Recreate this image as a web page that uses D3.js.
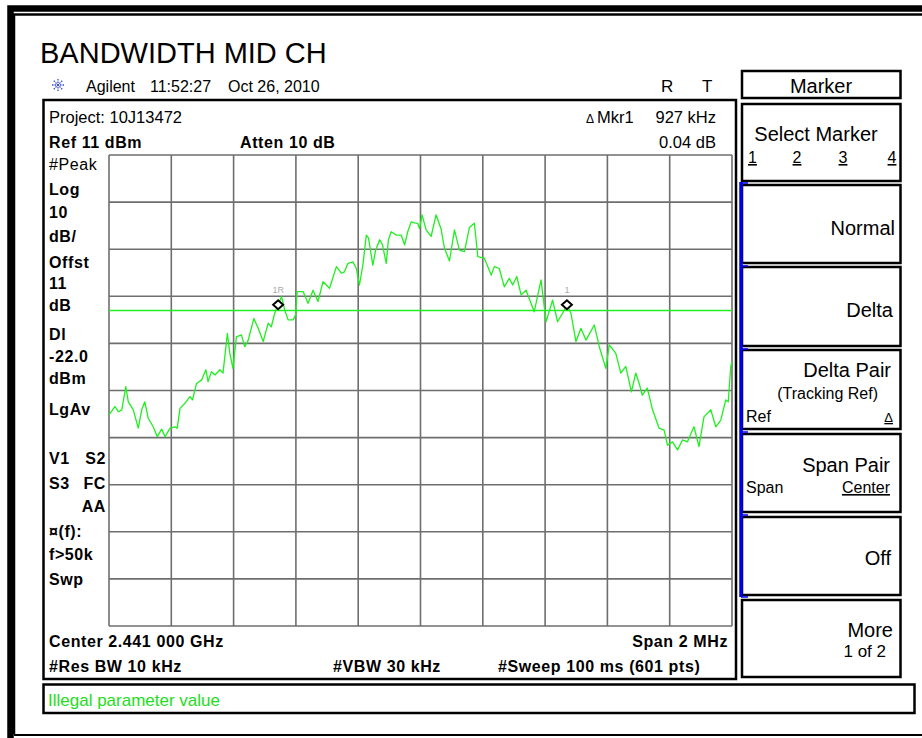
<!DOCTYPE html>
<html>
<head>
<meta charset="utf-8">
<script src="https://cdn.jsdelivr.net/npm/d3@7"></script>
<style>
body { margin: 0; background: #fff; }
text { font-family: "Liberation Sans", Arial, sans-serif; }
</style>
</head>
<body>
<div id="chart"></div>
<script>
let width = 922
let height = 738

// trace: offset from center (kHz) and level (dBm)
let freqKHz = [-1000,-981,-970,-959,-946,-938,-922,-906,-895,-885,-874,-858,-845,-831,-820,-804,-788,-781,-772,-756,
	-740,-732,-719,-703,-689,-682,-671,-660,-644,-634,-620,-612,-602,-591,-575,-564,-553,-535,-521,-505,
	-489,-479,-468,-457,-446,-436,-425,-409,-401,-396,-377,-361,-345,-329,-313,-292,-270,-254,-244,-233,
	-217,-206,-196,-185,-174,-167,-153,-144,-131,-122,-110,-103,-94,-78,-62,-51,-41,-30,-19,-9,
	-3,5,18,34,50,66,77,93,109,125,141,157,173,184,205,227,237,253,269,285,
	296,309,323,339,365,387,403,424,440,456,470,483,499,515,531,558,574,595,606,627,
	643,659,677,691,702,712,728,745,766,782,793,809,825,841,857,878,894,910,932,948,
	964,980,988,996,1000]
let levelDbm = [-44.2,-42.4,-43.5,-43.1,-38.2,-41.4,-43.1,-47.0,-43.1,-41.4,-44.9,-46.7,-48.8,-47.2,-48.8,-47.0,-46.7,-47.0,-42.8,-41.7,
	-40.3,-41.0,-37.5,-36.8,-34.6,-37.1,-35.0,-35.7,-34.6,-35.3,-26.9,-31.1,-34.3,-27.6,-27.2,-29.7,-28.3,-23.7,-25.8,-28.6,
	-24.7,-25.5,-22.6,-20.8,-19.1,-21.9,-24.0,-24.0,-23.0,-18.0,-18.0,-20.5,-17.7,-20.1,-15.9,-17.3,-12.7,-14.1,-13.8,-12.0,
	-11.7,-13.1,-16.6,-12.4,-6.0,-6.6,-12.4,-9.2,-7.0,-8.1,-12.0,-7.0,-5.3,-6.0,-6.0,-8.1,-5.3,-3.2,-3.4,-3.5,
	-4.6,-1.7,-4.9,-6.3,-1.7,-4.7,-8.8,-11.5,-4.9,-9.2,-9.5,-4.4,-3.5,-10.6,-10.9,-14.5,-12.7,-13.1,-17.0,-15.2,
	-16.6,-14.8,-18.7,-17.7,-22.3,-15.5,-24.4,-19.8,-24.4,-22.6,-20.8,-22.6,-28.6,-25.8,-28.3,-25.1,-29.7,-34.3,-29.3,-31.1,
	-35.3,-33.9,-39.3,-35.3,-37.5,-40.0,-38.5,-43.1,-47.0,-47.4,-50.6,-49.9,-51.6,-49.5,-49.9,-46.7,-50.9,-44.6,-43.1,-46.7,
	-45.3,-41.0,-41.4,-33.9,-32.9]

let gridFreqs = [-1000,-800,-600,-400,-200,0,200,400,600,800,1000]
let gridLevels = [11,1,-9,-19,-29,-39,-49,-59,-69,-79,-89]
let displayLine = -22.0

let markerNames = ['1R','1']
let markerFreqs = [-457,470]
let markerLevels = [-20.8,-20.8]

let leftLabels = ['#Peak','Log','10','dB/','Offst','11','dB','Dl','-22.0','dBm','LgAv']
let leftLabelY = [170,195,218,242,268,289,311,340,362,384,415]

let svg = d3.select('#chart').append('svg')
	.attr('width',width)
	.attr('height',height)

svg.append('rect').attr('width',width).attr('height',height).attr('fill','#fff')

// outer frame
svg.append('path').attr('d','M10.5,738 V8.5 H922').attr('fill','none').attr('stroke','#000').attr('stroke-width',6.5)
svg.append('path').attr('d','M14,734.5 V14.5 H922').attr('fill','none').attr('stroke','#000').attr('stroke-width',2.5)
svg.append('line').attr('x1',14).attr('x2',922).attr('y1',735).attr('y2',735).attr('stroke','#000').attr('stroke-width',2)

// title and header
svg.append('text').attr('x',40).attr('y',63).attr('font-size',29).text('BANDWIDTH MID CH')

let logo = svg.append('g').attr('transform','translate(58,85)')
d3.range(8).forEach(i => {
	let a = i*Math.PI/4
	logo.append('line')
		.attr('x1',Math.cos(a)*2).attr('y1',Math.sin(a)*2)
		.attr('x2',Math.cos(a)*7).attr('y2',Math.sin(a)*7)
		.attr('stroke','#3a4de0').attr('stroke-width',1.3).attr('stroke-dasharray','1.5,1')
})
logo.append('circle').attr('r',1.3).attr('fill','#3a4de0')

let hdr = svg.append('g').attr('font-size',16)
hdr.append('text').attr('x',86).attr('y',92).text('Agilent')
hdr.append('text').attr('x',150).attr('y',92).text('11:52:27')
hdr.append('text').attr('x',228).attr('y',92).text('Oct 26, 2010')
hdr.append('text').attr('x',661).attr('y',92).attr('font-size',17).text('R')
hdr.append('text').attr('x',702).attr('y',92).attr('font-size',17).text('T')

// main screen box
svg.append('rect').attr('x',43.5).attr('y',100).attr('width',692.5).attr('height',579)
	.attr('fill','none').attr('stroke','#000').attr('stroke-width',2.5)
svg.append('rect').attr('x',43.5).attr('y',684.5).attr('width',871).attr('height',28.5)
	.attr('fill','none').attr('stroke','#000').attr('stroke-width',2.5)
svg.append('text').attr('x',48).attr('y',706).attr('font-size',17).attr('fill','#22dd22').text('Illegal parameter value')

let margins = {'top':155,'left':109,'right':732,'bottom':626}

let xScale = d3.scaleLinear()
	.domain([-1000,1000])
	.range([margins.left,margins.right])

let yScale = d3.scaleLinear()
	.domain([11,-89])
	.range([margins.top,margins.bottom])

let grid = svg.append('g')
grid.selectAll('.vx').data(gridFreqs).enter().append('line')
	.attr('x1',d => xScale(d)).attr('x2',d => xScale(d))
	.attr('y1',margins.top).attr('y2',margins.bottom)
	.attr('stroke','#6e6e6e').attr('stroke-width',1.6)
grid.selectAll('.hy').data(gridLevels).enter().append('line')
	.attr('y1',d => yScale(d)).attr('y2',d => yScale(d))
	.attr('x1',margins.left).attr('x2',margins.right)
	.attr('stroke','#6e6e6e').attr('stroke-width',1.6)

// display line
svg.append('line')
	.attr('x1',margins.left).attr('x2',margins.right)
	.attr('y1',yScale(displayLine)).attr('y2',yScale(displayLine))
	.attr('stroke','#22ee22').attr('stroke-width',1.4)

let line = d3.line()
	.x((d,i) => xScale(freqKHz[i]))
	.y(d => yScale(d))

svg.append('path')
	.datum(levelDbm)
	.attr('d',line)
	.attr('fill','none')
	.attr('stroke','#1ef01e')
	.attr('stroke-width',1.3)
	.attr('stroke-linejoin','round')

let marks = svg.append('g')
markerNames.forEach((m,i) => {
	let cx = xScale(markerFreqs[i])
	let cy = yScale(markerLevels[i])
	marks.append('path')
		.attr('d',`M${cx-5},${cy} L${cx},${cy-4.5} L${cx+5},${cy} L${cx},${cy+4.5} Z`)
		.attr('fill','#fff').attr('stroke','#000').attr('stroke-width',2)
	marks.append('text')
		.attr('x',cx).attr('y',cy-12)
		.attr('text-anchor','middle')
		.attr('font-size',9).attr('fill','#aaa')
		.text(m)
})

// annotation text
let regular = svg.append('g').attr('font-size',16.5)
regular.append('text').attr('x',49).attr('y',123).text('Project: 10J13472')
regular.append('text').attr('x',716).attr('y',123).attr('text-anchor','end').text('927 kHz')
regular.append('text').attr('x',586).attr('y',123).attr('font-size',12).text('\u0394')
regular.append('text').attr('x',597).attr('y',123).text('Mkr1')
regular.append('text').attr('x',716).attr('y',148).attr('text-anchor','end').text('0.04 dB')

let bold = svg.append('g').attr('font-size',16).attr('font-weight','bold').attr('letter-spacing',0.6)
bold.append('text').attr('x',49).attr('y',148).text('Ref 11 dBm')
bold.append('text').attr('x',240).attr('y',148).text('Atten 10 dB')
leftLabels.forEach((t,i) => {
	bold.append('text').attr('x',49).attr('y',leftLabelY[i])
		.attr('font-weight',t === '#Peak' ? 'normal' : 'bold')
		.text(t)
})
bold.append('text').attr('x',49).attr('y',464).text('V1')
bold.append('text').attr('x',106).attr('y',464).attr('text-anchor','end').text('S2')
bold.append('text').attr('x',49).attr('y',489).text('S3')
bold.append('text').attr('x',106).attr('y',489).attr('text-anchor','end').text('FC')
bold.append('text').attr('x',106).attr('y',512).attr('text-anchor','end').text('AA')
bold.append('text').attr('x',49).attr('y',537).text('\u00a4(f):')
bold.append('text').attr('x',49).attr('y',560).text('f>50k')
bold.append('text').attr('x',49).attr('y',585).text('Swp')
bold.append('text').attr('x',49).attr('y',647).text('Center 2.441 000 GHz')
bold.append('text').attr('x',728).attr('y',647).attr('text-anchor','end').text('Span 2 MHz')
bold.append('text').attr('x',49).attr('y',672).text('#Res BW 10 kHz')
bold.append('text').attr('x',333).attr('y',672).text('#VBW 30 kHz')
bold.append('text').attr('x',498).attr('y',672).text('#Sweep 100 ms (601 pts)')

// softkey panel
let keys = svg.append('g')
keys.append('rect').attr('x',742).attr('y',71).attr('width',158.5).attr('height',27)
	.attr('fill','none').attr('stroke','#000').attr('stroke-width',2.5)
keys.append('text').attr('x',821).attr('y',93).attr('text-anchor','middle').attr('font-size',20).text('Marker')

let keyTops = [104,185,267,350,434,517,600]
let keyBottoms = [181,263,346,429,512,595,677]
keyTops.forEach((t,i) => {
	keys.append('rect').attr('x',742).attr('y',t).attr('width',158.5).attr('height',keyBottoms[i]-t)
		.attr('fill','none').attr('stroke','#000').attr('stroke-width',2.5)
})
keys.append('line').attr('x1',741).attr('x2',741).attr('y1',182).attr('y2',597)
	.attr('stroke','#0000ee').attr('stroke-width',3.5)
;[183,266,349,432,515,597].forEach(y => {
	keys.append('line').attr('x1',741).attr('x2',748).attr('y1',y).attr('y2',y)
		.attr('stroke','#0000ee').attr('stroke-width',1.5)
})

let big = keys.append('g').attr('font-size',20)
big.append('text').attr('x',816).attr('y',141).attr('text-anchor','middle').text('Select Marker')
big.append('text').attr('x',895).attr('y',235).attr('text-anchor','end').text('Normal')
big.append('text').attr('x',893).attr('y',317).attr('text-anchor','end').text('Delta')
big.append('text').attr('x',891).attr('y',377).attr('text-anchor','end').text('Delta Pair')
big.append('text').attr('x',890).attr('y',472).attr('text-anchor','end').text('Span Pair')
big.append('text').attr('x',891).attr('y',565).attr('text-anchor','end').text('Off')
big.append('text').attr('x',893).attr('y',637).attr('text-anchor','end').text('More')

let small = keys.append('g').attr('font-size',16)
;[['1',748],['2',797],['3',843],['4',892]].forEach(d => {
	small.append('text').attr('x',d[1]).attr('y',163).attr('text-anchor',d[0] === '1' ? 'start' : 'middle')
		.attr('text-decoration','underline').text(d[0])
})
small.append('text').attr('x',878).attr('y',399).attr('text-anchor','end').text('(Tracking Ref)')
small.append('text').attr('x',746).attr('y',422).text('Ref')
small.append('text').attr('x',893).attr('y',422).attr('text-anchor','end').attr('font-size',13)
	.attr('text-decoration','underline').text('\u0394')
small.append('text').attr('x',746).attr('y',493).text('Span')
small.append('text').attr('x',890).attr('y',493).attr('text-anchor','end').attr('text-decoration','underline').text('Center')
small.append('text').attr('x',886).attr('y',657).attr('text-anchor','end').attr('font-size',17).text('1 of 2')
</script>
</body>
</html>
